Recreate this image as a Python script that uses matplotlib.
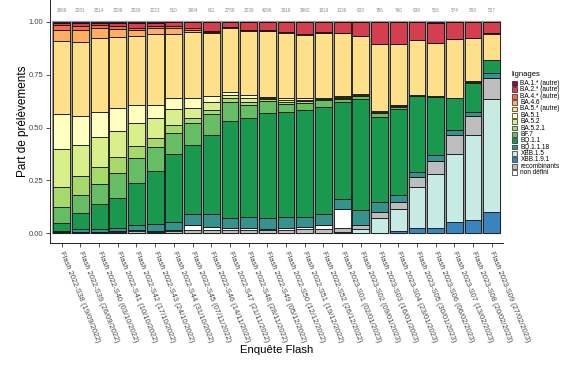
import numpy as np
import matplotlib
matplotlib.use("Agg")
import matplotlib.pyplot as plt
from matplotlib.patches import Rectangle

plt.rcParams['font.family'] = ['Liberation Sans', 'DejaVu Sans']

weeks = ["Flash 2022-S38 (19/09/2022)", "Flash 2022-S39 (26/09/2022)", "Flash 2022-S40 (03/10/2022)",
         "Flash 2022-S41 (10/10/2022)", "Flash 2022-S42 (17/10/2022)", "Flash 2022-S43 (24/10/2022)",
         "Flash 2022-S44 (31/10/2022)", "Flash 2022-S45 (07/11/2022)", "Flash 2022-S46 (14/11/2022)",
         "Flash 2022-S47 (21/11/2022)", "Flash 2022-S48 (28/11/2022)", "Flash 2022-S49 (05/12/2022)",
         "Flash 2022-S50 (12/12/2022)", "Flash 2022-S51 (19/12/2022)", "Flash 2022-S52 (26/12/2022)",
         "Flash 2023-S01 (02/01/2023)", "Flash 2023-S02 (09/01/2023)", "Flash 2023-S03 (16/01/2023)",
         "Flash 2023-S04 (23/01/2023)", "Flash 2023-S05 (30/01/2023)", "Flash 2023-S06 (06/02/2023)",
         "Flash 2023-S07 (13/02/2023)", "Flash 2023-S08 (20/02/2023)", "Flash 2023-S09 (27/02/2023)"]
counts = [3069, 3281, 2514, 3209, 2526, 2223, 510, 1904, 611, 2758, 3239, 4296,
          3319, 2962, 1819, 1036, 633, 786, 760, 638, 516, 574, 593, 527]

# percentages per lineage (bottom -> top stacking order)
xbb191 = [0]*18 + [1.3, 2.4, 2.4, 5.2, 6.3, 10.2]
xbb15 = [0]*14 + [0.3, 0.4, 1.9, 7.1, 10.0, 19.6, 25.5, 32.1, 40.2, 53.3]
recomb = [0.2, 0.4, 0.5, 0.7, 1.1, 0.7, 1.1, 1.6, 1.6, 1.6, 1.5, 1.4, 1.5, 1.8, 1.6, 2.0, 2.0, 3.1, 3.7, 4.5, 6.3, 9.2, 8.9, 10.0]
nondef = [0.3, 0.4, 0.3, 0.4, 0.5, 0.4, 0.5, 2.3, 1.5, 0.8, 0.9, 0.6, 0.9, 1.3, 2.0, 8.9, 0, 0, 0, 0, 0, 0, 0, 0]
bq1118 = [0.6, 1.1, 1.1, 1.3, 2.3, 3.2, 3.6, 5.1, 5.9, 5.0, 5.2, 5.1, 5.5, 4.8, 5.1, 4.8, 7.1, 4.8, 3.1, 2.6, 2.8, 2.3, 1.8, 2.1]
bq11 = [3.9, 7.5, 12.0, 14.1, 19.7, 25.3, 32.3, 32.7, 37.5, 45.7, 46.7, 49.6, 49.6, 50.4, 50.5, 45.9, 52.5, 40.1, 40.5, 35.8, 27.6, 15.3, 13.7, 6.3]
bf7 = [7.6, 8.7, 9.4, 11.8, 11.8, 11.0, 10.1, 10.3, 9.7, 8.8, 6.3, 6.0, 3.4, 3.4, 3.5, 1.5, 1.5, 1.6, 0.9, 0.3, 0.3, 0, 0.6, 0]
ba521 = [9.4, 9.0, 8.2, 7.9, 6.0, 4.3, 3.6, 2.3, 2.1, 1.9, 1.6, 0.5, 1.0, 0.8, 0.4, 0.5, 0, 0, 0.5, 0, 0, 0, 0, 0]
ba52 = [17.7, 14.8, 13.9, 12.1, 10.6, 9.4, 7.4, 4.8, 3.9, 1.6, 1.9, 0.5, 1.2, 0.7, 0.4, 0.5, 0.3, 0.4, 0.6, 0, 0, 0, 0.5, 0]
ba51 = [16.5, 13.7, 11.8, 10.8, 8.6, 6.3, 5.2, 4.7, 2.7, 1.2, 1.3, 0.5, 1.0, 0.6, 0.3, 0.4, 0.4, 0.7, 0, 0, 0, 0, 0, 0]
ba5 = [34.7, 35.0, 35.2, 33.8, 32.8, 33.4, 30.2, 31.5, 29.6, 30.3, 30.2, 31.3, 30.7, 29.9, 30.4, 29.6, 27.5, 31.5, 28.7, 26.1, 25.2, 27.6, 20.1, 12.1]
ba46 = [5.2, 5.5, 4.5, 3.6, 2.6, 3.0, 3.2, 0.9, 0.8, 0.4, 0.3, 0.2, 0.3, 0.3, 0.3, 0.2, 0, 0.2, 0, 0, 0, 0, 0, 0.5]
ba4 = [2.3, 1.9, 1.6, 1.5, 1.2, 1.2, 0.6, 0.7, 0.4, 0.3, 0.2, 0.2, 0.2, 0.2, 0.2, 0.2, 0, 0, 0, 0, 0, 0, 0, 0]
ba2 = [1.1, 1.4, 1.0, 1.5, 2.3, 1.4, 2.0, 2.8, 4.0, 2.2, 3.6, 3.7, 4.4, 5.5, 5.0, 5.1, 6.8, 10.5, 10.7, 8.7, 9.4, 8.3, 7.9, 5.5]
ba1 = [0.5, 0.6, 0.5, 0.5, 0.5, 0.4, 0.2, 0.3, 0.3, 0.2, 0.3, 0.3, 0.3, 0.3, 0, 0, 0, 0, 0, 0, 0.8, 0, 0, 0]

stack = [("XBB.1.9.1", xbb191, "#3a84bd"),
         ("XBB.1.5", xbb15, "#c8eae5"),
         ("recombinants", recomb, "#bdbdbd"),
         ("non défini", nondef, "#ffffff"),
         ("BQ.1.1.18", bq1118, "#35928f"),
         ("BQ.1.1", bq11, "#1a9850"),
         ("BF.7", bf7, "#66bd63"),
         ("BA.5.2.1", ba521, "#a6d96a"),
         ("BA.5.2", ba52, "#d9ef8b"),
         ("BA.5.1", ba51, "#ffffbf"),
         ("BA.5.* (autre)", ba5, "#fee08b"),
         ("BA.4.6", ba46, "#fdae61"),
         ("BA.4.* (autre)", ba4, "#f46d43"),
         ("BA.2.* (autre)", ba2, "#d53e4f"),
         ("BA.1.* (autre)", ba1, "#9e0142")]
legend_order = ["BA.1.* (autre)", "BA.2.* (autre)", "BA.4.* (autre)", "BA.4.6", "BA.5.* (autre)",
                "BA.5.1", "BA.5.2", "BA.5.2.1", "BF.7", "BQ.1.1", "BQ.1.1.18", "XBB.1.5",
                "XBB.1.9.1", "recombinants", "non défini"]

W, H = 574, 366
fig = plt.figure(figsize=(W/100, H/100), dpi=100)
ax = fig.add_axes([50/W, 1 - 243/H, (503.4-50)/W, 243/H])

x = np.arange(len(weeks))
mat = np.array([s[1] for s in stack], dtype=float)
mat = mat / mat.sum(axis=0)
bottom = np.zeros(len(weeks))
bw = 0.9
# grey outline of whole bars
ax.bar(x, np.ones(len(weeks)), width=bw, color="none", edgecolor="#9a9a9a", linewidth=1.6, zorder=1)
for (name, _, col), vals in zip(stack, mat):
    ax.bar(x, vals, bottom=bottom, width=bw, color=col, edgecolor="#111111", linewidth=0.6, zorder=2)
    bottom += vals

for xi, c in zip(x, counts):
    ax.text(xi, 1.055, str(c), ha="center", va="center", fontsize=3.3, color="#8a8a8a")

ax.set_xlim(-0.626, len(weeks) - 1 + 0.626)
ax.set_ylim(-0.0458, 1.1026)
ax.set_yticks([0, 0.25, 0.5, 0.75, 1.0])
ax.set_yticklabels(["0.00", "0.25", "0.50", "0.75", "1.00"])
ax.set_xticks(x)
ax.set_xticklabels(weeks, rotation=-68, ha="left", va="center", rotation_mode="anchor")
ax.tick_params(axis="both", colors="#333333", length=3, width=0.6)
ax.tick_params(axis="x", labelsize=5.4, pad=3)
ax.tick_params(axis="y", labelsize=5.5, pad=2)
for lab in ax.get_xticklabels() + ax.get_yticklabels():
    lab.set_color("#444444")
for s in ["top", "right"]:
    ax.spines[s].set_visible(False)
for s in ["left", "bottom"]:
    ax.spines[s].set_linewidth(0.6)
fig.text(22.7/W, 1 - 121/H, "Part de prélèvements", rotation=90, ha="center", va="center", fontsize=8.5)
fig.text(276.5/W, 1 - 350/H, "Enquête Flash", ha="center", va="center", fontsize=8.2)

# legend (drawn by hand for exact spacing)
colmap = {n: c for n, _, c in stack}
fig.text(511.5/W, 1 - 74/H, "lignages", ha="left", va="center", fontsize=5.5)
y0, dy = 83.5, 6.36
for i, n in enumerate(legend_order):
    yc = y0 + i * dy
    fig.patches.append(Rectangle((511.5/W, 1 - (yc + 2.4)/H), 5/W, 4.8/H, transform=fig.transFigure,
                                 facecolor=colmap[n], edgecolor="#222222", linewidth=0.5))
    fig.text(520.5/W, 1 - yc/H, n, ha="left", va="center", fontsize=4.7)

fig.savefig("out.png", dpi=100)
